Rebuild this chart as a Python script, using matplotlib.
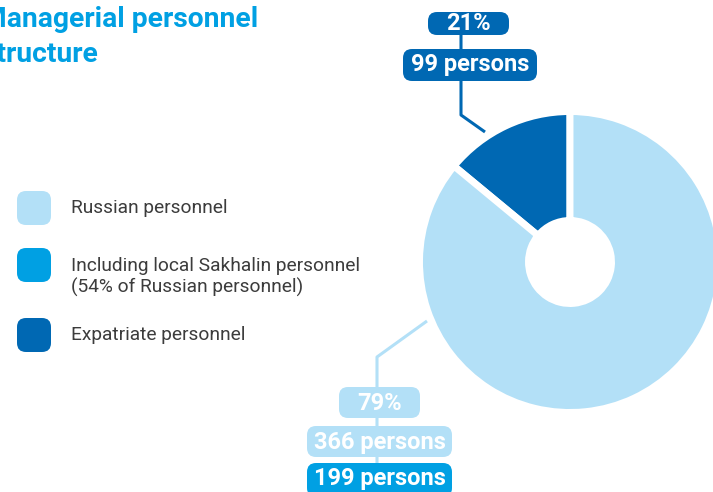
import matplotlib.pyplot as plt
from matplotlib.patches import FancyBboxPatch

plt.rcParams["font.family"] = ["Roboto", "DejaVu Sans"]

W, H = 713, 492

title_lines = ["Managerial personnel", "structure"]

# legend
legend_labels = [
    "Russian personnel",
    "Including local Sakhalin personnel\n(54% of Russian personnel)",
    "Expatriate personnel",
]
light = "#b3e0f7"
mid = "#00a0e3"
dark = "#0068b3"
legend_colors = [light, mid, dark]

# donut: share of each wedge as drawn (expatriate first, then russian)
wedge_share = [14, 86]
wedge_colors = [dark, light]

# callout labels
expat_labels = ["21%", "99 persons"]
russian_labels = ["79%", "366 persons", "199 persons"]
russian_box_colors = [light, light, mid]


def Y(y):
    # image pixel row -> axes coordinate
    return H - y


fig = plt.figure(figsize=(W / 100, H / 100), dpi=100)
ax = fig.add_axes([0, 0, 1, 1])

# donut
cx, cy = 570, 262
ax.pie(
    wedge_share,
    colors=wedge_colors,
    startangle=90,
    counterclock=True,
    center=(cx, Y(cy)),
    radius=150.5,
    wedgeprops=dict(width=109, edgecolor="white", linewidth=5),
)

# title (cut at the left edge like the source)
for line, yy in zip(title_lines, [27, 62]):
    ax.text(-18, Y(yy), line, fontsize=20.3, fontweight="bold",
            color="#00a0e3", ha="left", va="baseline")

# legend
leg_y = [208, 265, 335]
for lab, col, yy in zip(legend_labels, legend_colors, leg_y):
    ax.add_patch(FancyBboxPatch((19, Y(yy) - 15), 30, 30,
                                boxstyle="round,pad=2,rounding_size=9",
                                fc=col, ec="none"))
    ax.text(71, Y(yy + (12 if "\n" in lab else 0)), lab, fontsize=13.8,
            fontweight="normal", color="#3c3c3c", ha="left", va="center",
            linespacing=1.2)

# expatriate callout
ax.plot([485, 461, 461], [Y(132), Y(115), Y(30)], color=dark, lw=2.2,
        solid_capstyle="butt", zorder=3)
exp_boxes = [(428, 12, 81, 23), (403, 49, 134, 32)]
for txt, (bx, by, bw, bh) in zip(expat_labels, exp_boxes):
    ax.add_patch(FancyBboxPatch((bx + 4, Y(by + bh) + 4), bw - 8, bh - 8,
                                boxstyle="round,pad=4,rounding_size=9",
                                fc=dark, ec="none", zorder=4))
    ax.text(bx + bw / 2, Y(by + bh / 2), txt, fontsize=17, fontweight="bold",
            color="white", ha="center", va="center", zorder=5)

# russian callout
ax.plot([427, 377, 377], [Y(321), Y(357), Y(480)], color=light, lw=2.2,
        solid_capstyle="butt", zorder=3)
rus_boxes = [(339, 387, 81, 31), (307, 426, 145, 31), (307, 463, 145, 34)]
for txt, col, (bx, by, bw, bh) in zip(russian_labels, russian_box_colors, rus_boxes):
    ax.add_patch(FancyBboxPatch((bx + 4, Y(by + bh) + 4), bw - 8, bh - 8,
                                boxstyle="round,pad=4,rounding_size=9",
                                fc=col, ec="none", zorder=4))
    ax.text(bx + bw / 2, Y(by + 16), txt, fontsize=17, fontweight="bold",
            color="white", ha="center", va="center", zorder=5)

ax.set_xlim(0, W)
ax.set_ylim(0, H)
ax.set_aspect("auto")
ax.axis("off")

fig.savefig("out.png", dpi=100)
